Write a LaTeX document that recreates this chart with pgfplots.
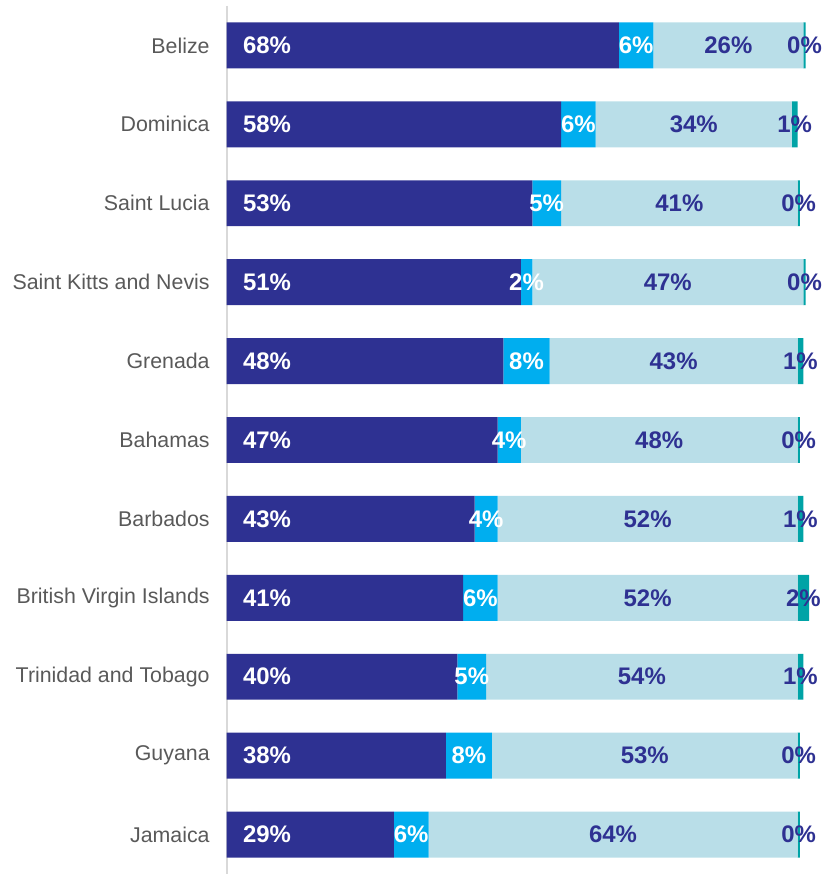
\documentclass[border={3pt 0pt 1pt 2.5pt}]{standalone}
\usepackage{pgfplots}
\usepackage{pgfplotstable}
\pgfplotsset{compat=1.18}
\usepackage{fontspec}
\setmainfont{Liberation Sans}

\definecolor{cNavy}{HTML}{2E3192}
\definecolor{cBright}{HTML}{00AEEF}
\definecolor{cPale}{HTML}{B9DEE8}
\definecolor{cTeal}{HTML}{00A3A6}
\definecolor{cText}{HTML}{595959}
\definecolor{cAxis}{HTML}{D9D9D9}

% navy, bright, pale, teal (one row per country, top to bottom)
\pgfplotstableread{
navy bright pale teal
68 6 26 0.4
58 6 34 1
53 5 41 0.4
51 2 47 0.4
48 8 43 1
47 4 48 0.4
43 4 52 1
41 6 52 2
40 5 54 1
38 8 53 0.4
29 6 64 0.4
}\data

% stacked nodes near coords already sit in the middle of each segment
\pgfplotsset{
  seg/.style={
    draw=none,
    point meta=explicit,
    nodes near coords={\pgfmathprintnumber[fixed,precision=0,assume math mode=true]{\pgfplotspointmeta}\%},
    visualization depends on={\thisrow{#1} \as \rawx},
    every node near coord/.append style={
      font=\bfseries\fontsize{12}{14}\selectfont,
      inner sep=0pt, anchor=center},
  },
}

\begin{document}
\begin{tikzpicture}
\begin{axis}[
  width=289pt, height=435pt,
  scale only axis,
  xbar stacked,
  bar width=23pt,
  xmin=0, xmax=100,
  ymin=-0.5, ymax=10.5,
  y dir=reverse,
  clip=false,
  axis x line=none,
  axis y line*=left,
  y axis line style={cAxis, line width=1pt},
  ytick={0,...,10},
  yticklabels={Belize,Dominica,Saint Lucia,Saint Kitts and Nevis,Grenada,Bahamas,Barbados,British Virgin Islands,Trinidad and Tobago,Guyana,Jamaica},
  major tick length=0pt,
  yticklabel style={cText, font=\fontsize{10.7}{12}\selectfont, xshift=-5pt},
]
\addplot[seg=navy, fill=cNavy,
  every node near coord/.append style={white, anchor=west,
    shift={(axis direction cs:-\rawx/2,0)}, xshift=8pt}]
  table[x=navy, y expr=\coordindex, meta=navy] {\data};
\addplot[seg=bright, fill=cBright,
  every node near coord/.append style={white}]
  table[x=bright, y expr=\coordindex, meta=bright] {\data};
\addplot[seg=pale, fill=cPale,
  every node near coord/.append style={cNavy}]
  table[x=pale, y expr=\coordindex, meta=pale] {\data};
\addplot[seg=teal, fill=cTeal,
  every node near coord/.append style={cNavy}]
  table[x=teal, y expr=\coordindex, meta=teal] {\data};
\end{axis}
\end{tikzpicture}
\end{document}
